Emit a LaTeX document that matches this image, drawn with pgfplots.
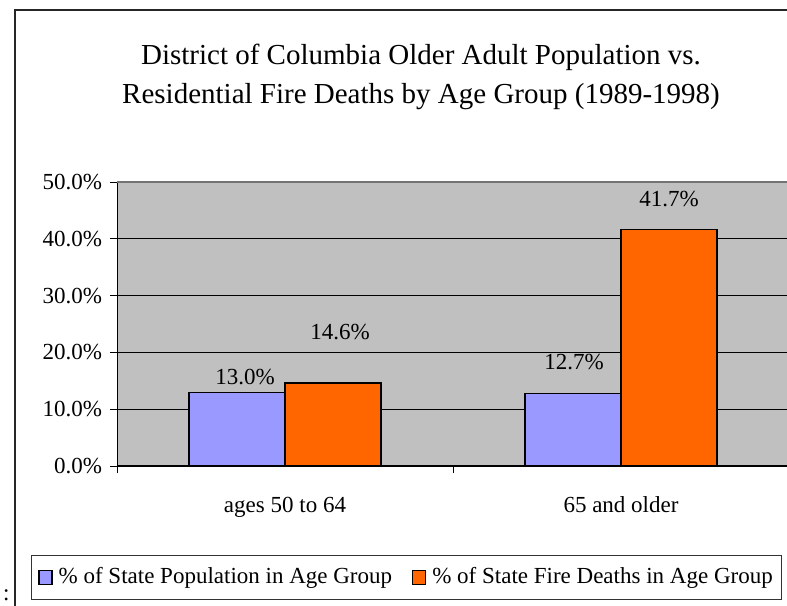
\documentclass[border=0pt]{standalone}
\usepackage{pgfplots}
\pgfplotsset{compat=1.18}
\usepackage{fontspec}
\setmainfont{Liberation Serif}
\definecolor{bg}{HTML}{C0C0C0}
\definecolor{cblue}{HTML}{9999FF}
\definecolor{corange}{HTML}{FF6600}
\begin{document}
\fontsize{23}{27}\selectfont
\begin{tikzpicture}
\useasboundingbox (0pt,0pt) rectangle (787pt,605pt);
\draw[black!85, line width=1.2pt] (15pt,-5pt) rectangle (795pt,595pt);
\node[anchor=base west, inner sep=0pt] at (3pt,5pt) {:};
\node[anchor=base, font=\fontsize{29}{34}\selectfont] at (421pt,540pt) {District of Columbia Older Adult Population vs.};
\node[anchor=base, font=\fontsize{29}{34}\selectfont] at (421pt,501pt) {Residential Fire Deaths by Age Group (1989-1998)};
\begin{axis}[
  at={(117pt,139pt)}, anchor=south west,
  scale only axis, width=672pt, height=284pt,
  xmin=-0.5, xmax=1.5, ymin=0, ymax=50,
  enlargelimits=false,
  axis background/.style={fill=bg},
  axis x line*=bottom, axis y line*=left,
  axis line style={black, line width=1pt},
  ytick={0,10,20,30,40,50},
  yticklabel={\pgfmathprintnumber[fixed,fixed zerofill,precision=1,assume math mode=true]{\tick}\%},
  ymajorgrids, major grid style={black, line width=0.8pt},
  tick align=outside, major tick length=7pt, tick style={black, line width=0.8pt},
  xtick={-0.5,0.5,1.5}, xticklabels={},
  extra x ticks={0,1}, extra x tick labels={ages 50 to 64, 65 and older},
  extra x tick style={major tick length=0pt, grid=none, tick label style={yshift=-23pt}},
  ybar, bar width=96pt,
  tick label style={font=\fontsize{23}{27}\selectfont},
  legend columns=2,
  legend style={at={(axis description cs:-0.128,-0.313)}, anchor=north west,
    draw=black!80, line width=1pt, fill=white,
    font=\fontsize{23}{27}\selectfont, inner xsep=7pt, inner ysep=10pt,
    /tikz/every odd column/.append style={column sep=4pt},
    /tikz/every even column/.append style={column sep=18pt}},
  legend image code/.code={\draw[#1, draw=black, line width=1.2pt] (0pt,-7pt) rectangle (13pt,7pt);},
]
\addplot[fill=cblue, draw=black, line width=1.2pt, bar shift=-48pt] coordinates {(0,13.0) (1,12.7)};
\addplot[fill=corange, draw=black, line width=1.2pt, bar shift=48pt] coordinates {(0,14.6) (1,41.7)};
\legend{\% of State Population in Age Group, \% of State Fire Deaths in Age Group}
\draw[gray!90!black, line width=1.5pt] (axis cs:-0.5,50) -- (axis cs:1.5,50);
\node[font=\fontsize{23}{27}\selectfont] at (axis cs:-0.119,15.7) {13.0\%};
\node[font=\fontsize{23}{27}\selectfont] at (axis cs:0.164,23.6) {14.6\%};
\node[font=\fontsize{23}{27}\selectfont] at (axis cs:0.86,18.3) {12.7\%};
\node[font=\fontsize{23}{27}\selectfont] at (axis cs:1.143,47.0) {41.7\%};
\end{axis}
\end{tikzpicture}
\end{document}
